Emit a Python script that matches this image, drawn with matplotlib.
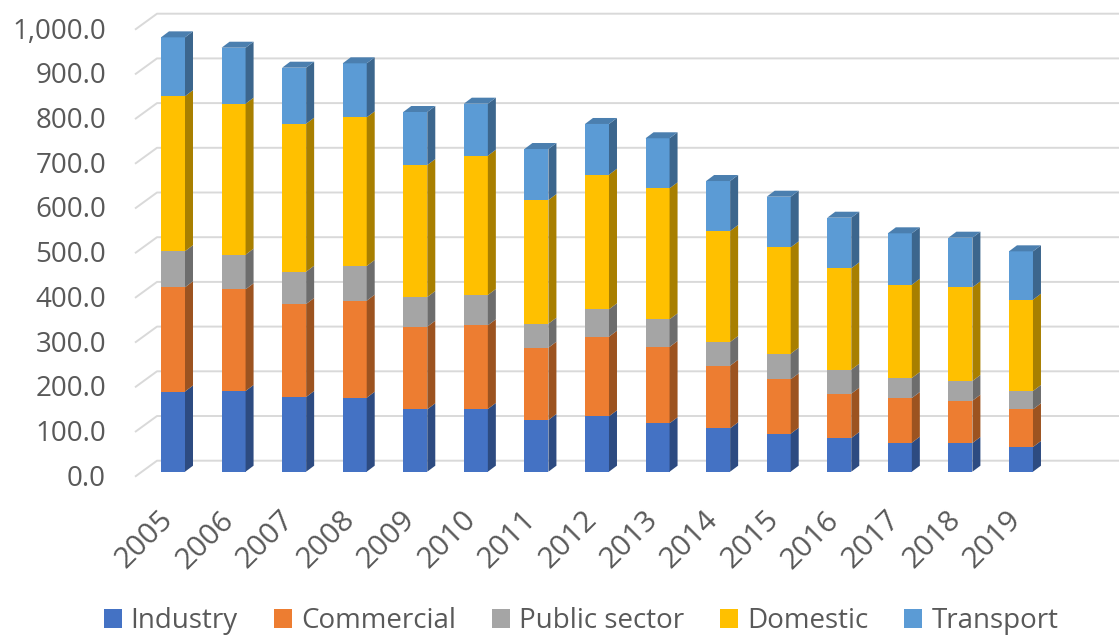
"""Stacked 3D-style column chart, 2005-2019, by sector."""

import matplotlib

matplotlib.use("Agg")
import matplotlib.pyplot as plt
from matplotlib.patches import Patch, Polygon
from matplotlib.colors import to_rgb
import numpy as np

years = ["2005", "2006", "2007", "2008", "2009", "2010", "2011", "2012",
         "2013", "2014", "2015", "2016", "2017", "2018", "2019"]
industry = [179.4, 180.5, 167.1, 165.5, 139.6, 140.3, 115.7, 123.9,
            108.3, 97.1, 85.0, 75.4, 64.9, 64.2, 55.3]
commercial = [233.2, 227.5, 208.1, 217.1, 184.8, 187.2, 161.7, 178.1,
              170.7, 140.0, 121.7, 99.1, 100.0, 94.6, 84.3]
public_sector = [80.7, 77.5, 72.2, 77.6, 66.4, 67.8, 53.7, 61.3,
                 61.9, 53.1, 57.3, 53.7, 44.7, 44.1, 40.9]
domestic = [346.8, 337.8, 331.1, 332.6, 295.3, 311.6, 276.7, 301.1,
            293.1, 248.3, 238.0, 226.8, 208.7, 209.6, 204.3]
transport = [131.6, 125.2, 125.3, 120.8, 118.6, 116.4, 114.1, 113.5,
             111.9, 111.8, 113.2, 113.2, 115.0, 111.0, 108.2]

series = [
    ("Industry", industry, "#4472C4"),
    ("Commercial", commercial, "#ED7D31"),
    ("Public sector", public_sector, "#A5A5A5"),
    ("Domestic", domestic, "#FFC000"),
    ("Transport", transport, "#5B9BD5"),
]
yticks = np.arange(0, 1001, 100)

# pixel layout of the original (1119 x 637)
W, H = 1119, 637
X0, SX = 173.0, 60.57     # px of first bar centre, px per category
Y0, SY = 471.7, 0.447     # px (from top) of value 0, px per unit
DX, DY = 8 / SX, 6 / SY   # depth offset of the 3D faces
BAR_W = 24 / SX
TEXT = "#595959"
FS = 20

plt.rcParams["font.family"] = ["Open Sans", "DejaVu Sans"]


def shade(color, f):
    r, g, b = to_rgb(color)
    return (r * f, g * f, b * f)


fig = plt.figure(figsize=(W / 100, H / 100), dpi=100)
ax = fig.add_axes([0, 0, 1, 1])
ax.set_xlim(-X0 / SX, (W - X0) / SX)
ax.set_ylim((Y0 - H) / SY, Y0 / SY)
ax.axis("off")

# back-wall gridlines with the diagonal run towards the labels
x_back = (157 - X0) / SX
x_front = (135 - X0) / SX
back_off = 11 / SY
front_off = -5 / SY
for v in yticks:
    ax.plot([x_front, x_back, (W - X0) / SX], [v + front_off, v + back_off, v + back_off],
            color="#D9D9D9", lw=1.4, zorder=1, solid_capstyle="butt")
    ax.text((106 - X0) / SX, v + front_off - 2 / SY, f"{v:,.1f}", ha="right", va="center",
            fontsize=FS, color=TEXT)

x = np.arange(len(years))
bottom = np.zeros(len(years))
for name, vals, color in series:
    vals = np.array(vals)
    ax.bar(x, vals, width=BAR_W, bottom=bottom, color=color, zorder=3, linewidth=0)
    for xi, b, h in zip(x, bottom, vals):
        xr = xi + BAR_W / 2
        side = Polygon([(xr, b), (xr + DX, b + DY), (xr + DX, b + h + DY), (xr, b + h)],
                       closed=True, facecolor=shade(color, 0.66), edgecolor="none", zorder=3)
        ax.add_patch(side)
    bottom = bottom + vals

# top faces on the last segment
top_color = shade(series[-1][2], 0.82)
for xi, t in zip(x, bottom):
    xl, xr = xi - BAR_W / 2, xi + BAR_W / 2
    ax.add_patch(Polygon([(xl, t), (xl + DX, t + DY), (xr + DX, t + DY), (xr, t)],
                         closed=True, facecolor=top_color, edgecolor="none", zorder=3))

for xi, yr in zip(x, years):
    ax.text(xi + 1 / SX, (Y0 - 521) / SY, yr, rotation=45, rotation_mode="anchor",
            ha="right", va="baseline", fontsize=21.5, color=TEXT)

handles = [Patch(facecolor=c, edgecolor="none") for _, _, c in series]
fig.legend(handles, [n for n, _, _ in series], loc="center",
           bbox_to_anchor=(581 / W, 1 - 621 / H), ncol=5, frameon=False,
           fontsize=FS, labelcolor=TEXT, handlelength=0.65, handleheight=0.65,
           handletextpad=0.32, columnspacing=1.3)

fig.savefig("out.png", dpi=100)
plt.close(fig)
